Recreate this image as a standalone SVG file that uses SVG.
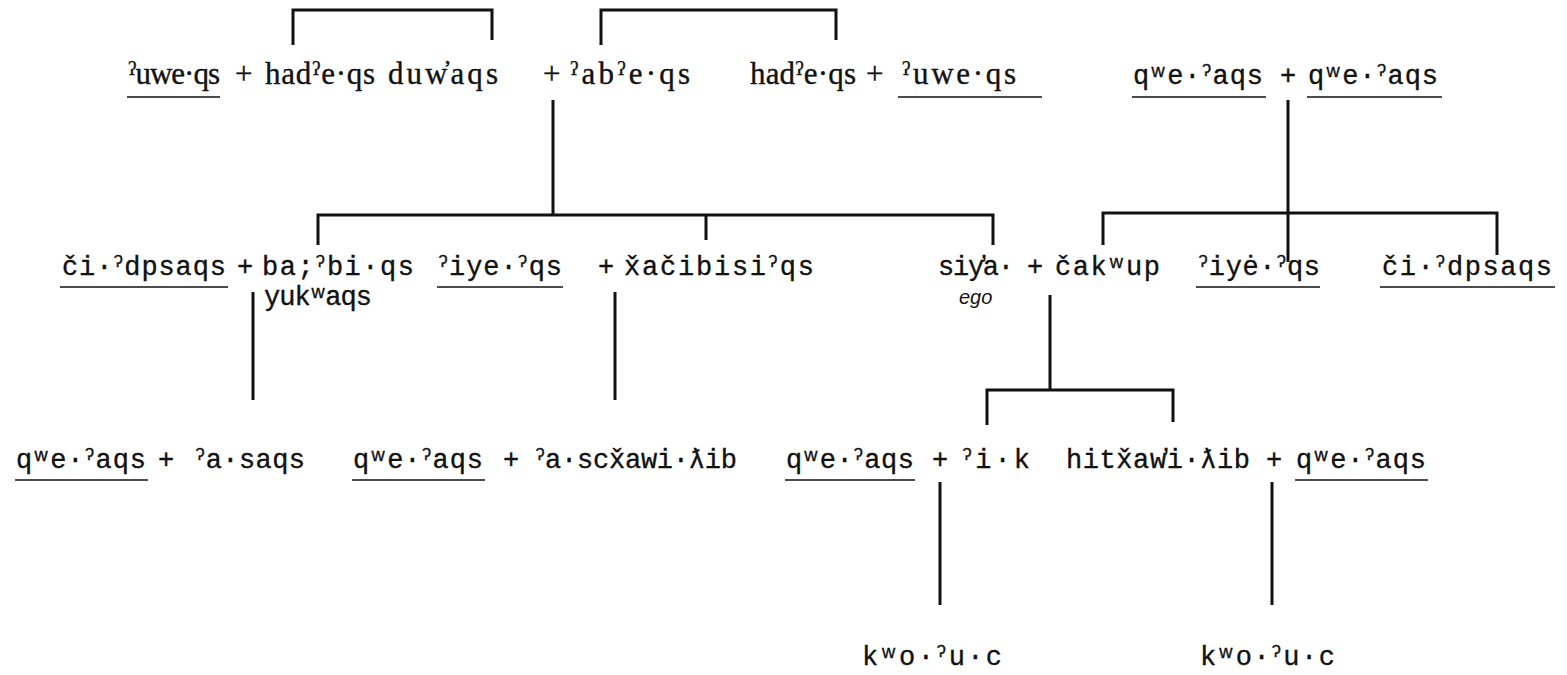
<svg xmlns="http://www.w3.org/2000/svg" width="1567" height="675" viewBox="0 0 1567 675">
  <style>
    text { fill: #111; stroke: #111; stroke-width: 0.35px; }
    .pr { font-family: "Liberation Serif", "DejaVu Serif", serif; font-size: 31px; }
    .tw { font-family: "Liberation Mono", "DejaVu Sans Mono", monospace; font-size: 27px; }
    .ego { font-family: "Liberation Sans", "DejaVu Sans", sans-serif; font-size: 20px; font-style: italic; stroke-width: 0; }
    .gs { font-size: 17px; baseline-shift: 8px; }
    .pr .gs { font-size: 19px; baseline-shift: 9px; }
    .ul { stroke: #111; stroke-width: 1.6; fill: none; }
    .ln { stroke: #111; stroke-width: 3; fill: none; stroke-linejoin: miter; stroke-linecap: butt; }
  </style>

  <rect width="1567" height="675" fill="#fff"/>

  <!-- lines of descent and sibling brackets -->
  <g id="connectors">
    <path class="ln" d="M293 45 V10 H492 V40"/>
    <path class="ln" d="M601 45 V10 H836 V40"/>
    <path class="ln" d="M553 100 V215"/>
    <path class="ln" d="M318 245 V215 H993 V245"/>
    <path class="ln" d="M706 215 V240"/>
    <path class="ln" d="M1288 100 V262"/>
    <path class="ln" d="M1103 245 V213 H1497 V255"/>
    <path class="ln" d="M253 292 V400"/>
    <path class="ln" d="M615 292 V400"/>
    <path class="ln" d="M1050 295 V390"/>
    <path class="ln" d="M987 425 V390 H1173 V422"/>
    <path class="ln" d="M940 482 V605"/>
    <path class="ln" d="M1272 482 V605"/>
  </g>

  <!-- marriage signs -->
  <g id="unions">
    <text class="pr" x="235" y="84">+</text>
    <text class="pr" x="543" y="84">+</text>
    <text class="pr" x="866" y="84">+</text>
    <text class="tw" x="1280" y="84">+</text>
    <text class="tw" x="237" y="275">+</text>
    <text class="tw" x="598" y="275">+</text>
    <text class="tw" x="1027" y="275">+</text>
    <text class="tw" x="158" y="468">+</text>
    <text class="tw" x="503" y="468">+</text>
    <text class="tw" x="932" y="468">+</text>
    <text class="tw" x="1266" y="468">+</text>
  </g>

  <!-- generation 1 -->
  <g id="n1"><text class="pr" x="128" y="84" textLength="92"><tspan class="gs">ʔ</tspan>uwe·qs</text><line class="ul" x1="127" y1="97" x2="220" y2="97"/></g>
  <g id="n2"><text class="pr" x="265" y="84" textLength="110">had<tspan class="gs">ʔ</tspan>e·qs</text></g>
  <g id="n3"><text class="pr" x="388" y="84" textLength="110">duw̓aqs</text></g>
  <g id="n4"><text class="pr" x="570" y="84" textLength="120"><tspan class="gs">ʔ</tspan>ab<tspan class="gs">ʔ</tspan>e·qs</text></g>
  <g id="n5"><text class="pr" x="750" y="84" textLength="106">had<tspan class="gs">ʔ</tspan>e·qs</text></g>
  <g id="n6"><text class="pr" x="902" y="84" textLength="114"><tspan class="gs">ʔ</tspan>uwe·qs</text><line class="ul" x1="898" y1="97" x2="1042" y2="97"/></g>
  <g id="n7"><text class="tw" x="1133" y="84" textLength="130">qʷe·<tspan class="gs">ʔ</tspan>aqs</text><line class="ul" x1="1132" y1="97" x2="1266" y2="97"/></g>
  <g id="n8"><text class="tw" x="1308" y="84" textLength="130">qʷe·<tspan class="gs">ʔ</tspan>aqs</text><line class="ul" x1="1307" y1="97" x2="1442" y2="97"/></g>

  <!-- generation 2 -->
  <g id="n9"><text class="tw" x="62" y="275" textLength="164">či·<tspan class="gs">ʔ</tspan>dpsaqs</text><line class="ul" x1="60" y1="287" x2="228" y2="287"/></g>
  <g id="n10"><text class="tw" x="262" y="275" textLength="152">ba;<tspan class="gs">ʔ</tspan>bi·qs</text><text class="tw" x="264" y="305" textLength="108">yukʷaqs</text></g>
  <g id="n11"><text class="tw" x="438" y="275" textLength="124"><tspan class="gs">ʔ</tspan>iye·<tspan class="gs">ʔ</tspan>qs</text><line class="ul" x1="437" y1="287" x2="563" y2="287"/></g>
  <g id="n12"><text class="tw" x="624" y="275" textLength="190">x̌ačibisi<tspan class="gs">ʔ</tspan>qs</text></g>
  <g id="n13"><text class="tw" x="938" y="275" textLength="76">siy̓a·</text><text class="ego" x="959" y="304">ego</text></g>
  <g id="n14"><text class="tw" x="1055" y="275" textLength="105">čakʷup</text></g>
  <g id="n15"><text class="tw" x="1198" y="275" textLength="122"><tspan class="gs">ʔ</tspan>iyė·<tspan class="gs">ʔ</tspan>qs</text><line class="ul" x1="1196" y1="287" x2="1320" y2="287"/></g>
  <g id="n16"><text class="tw" x="1382" y="275" textLength="170">či·<tspan class="gs">ʔ</tspan>dpsaqs</text><line class="ul" x1="1380" y1="287" x2="1555" y2="287"/></g>

  <!-- generation 3 -->
  <g id="n17"><text class="tw" x="16" y="468" textLength="130">qʷe·<tspan class="gs">ʔ</tspan>aqs</text><line class="ul" x1="15" y1="480" x2="148" y2="480"/></g>
  <g id="n18"><text class="tw" x="195" y="468" textLength="110"><tspan class="gs">ʔ</tspan>a·saqs</text></g>
  <g id="n19"><text class="tw" x="353" y="468" textLength="130">qʷe·<tspan class="gs">ʔ</tspan>aqs</text><line class="ul" x1="352" y1="480" x2="485" y2="480"/></g>
  <g id="n20"><text class="tw" x="535" y="468" textLength="202"><tspan class="gs">ʔ</tspan>a·scx̌awi·ƛib</text></g>
  <g id="n21"><text class="tw" x="786" y="468" textLength="128">qʷe·<tspan class="gs">ʔ</tspan>aqs</text><line class="ul" x1="785" y1="480" x2="915" y2="480"/></g>
  <g id="n22"><text class="tw" x="962" y="468" textLength="68"><tspan class="gs">ʔ</tspan>i·k</text></g>
  <g id="n23"><text class="tw" x="1066" y="468" textLength="184">hitx̌aw̓i·ƛib</text></g>
  <g id="n24"><text class="tw" x="1296" y="468" textLength="130">qʷe·<tspan class="gs">ʔ</tspan>aqs</text><line class="ul" x1="1295" y1="480" x2="1428" y2="480"/></g>

  <!-- generation 4 -->
  <g id="n25"><text class="tw" x="862" y="665" textLength="140">kʷo·<tspan class="gs">ʔ</tspan>u·c</text></g>
  <g id="n26"><text class="tw" x="1200" y="665" textLength="135">kʷo·<tspan class="gs">ʔ</tspan>u·c</text></g>
</svg>
